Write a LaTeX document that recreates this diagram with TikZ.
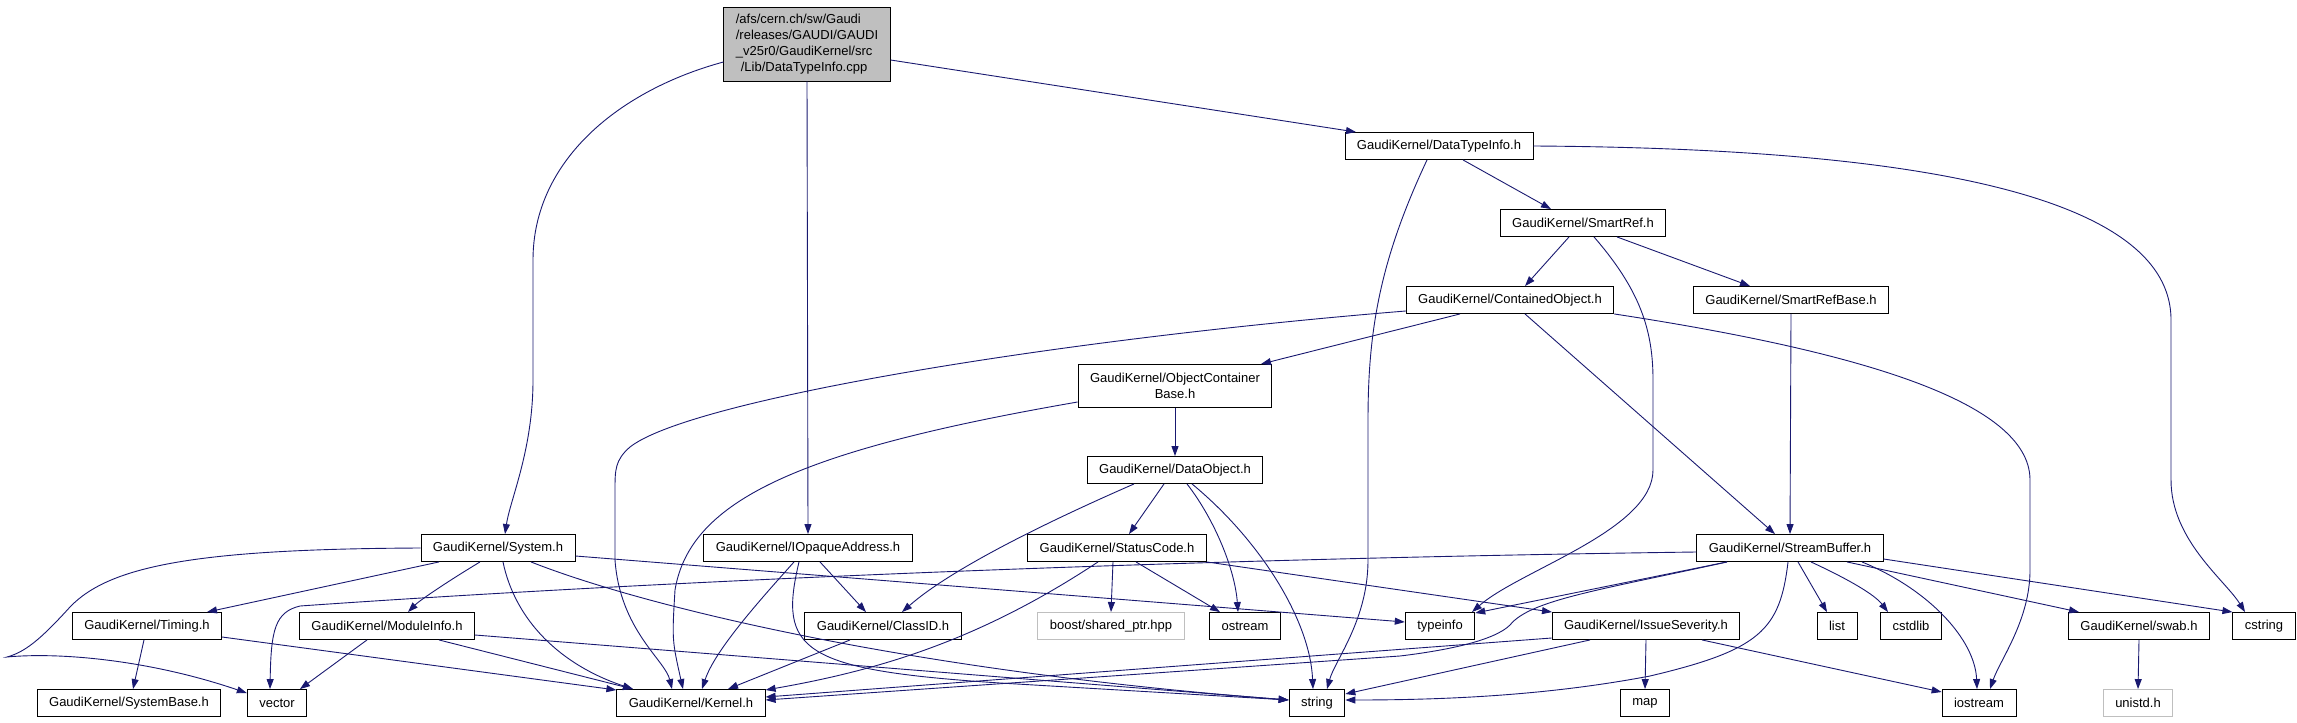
\documentclass[tikz,border=0pt]{standalone}
\usepackage{fontspec}
\setmainfont{Liberation Sans}
\usetikzlibrary{arrows.meta}
\definecolor{edgeblue}{HTML}{191970}
\definecolor{boxgray}{HTML}{BFBFBF}

\begin{document}
\begin{tikzpicture}[
  x=1bp, y=-1bp,
  hdr/.style = {shape=rectangle, draw=black, line width=0.9bp, inner xsep=12bp,
    inner ysep=0bp, minimum height=27bp, align=center,
    font=\fontsize{13bp}{16bp}\selectfont},
  ext/.style = {hdr, draw=boxgray},
  src/.style = {hdr, fill=boxgray, align=left, minimum height=74bp},
  dep/.style = {draw=edgeblue, line width=0.9bp, -{Triangle[length=10bp, width=7bp]}}
  ]
  \useasboundingbox (0,0) rectangle (2297,723);

  % headers, row by row
  \node[src] (root) at (807,44) {/afs/cern.ch/sw/Gaudi\\/releases/GAUDI/GAUDI\\\_v25r0/GaudiKernel/src\\\hspace*{5bp}/Lib/DataTypeInfo.cpp};
  \node[hdr] (dti) at (1439,146) {GaudiKernel/DataTypeInfo.h};
  \node[hdr] (smartref) at (1583,223) {GaudiKernel/SmartRef.h};
  \node[hdr] (cobj) at (1510,300) {GaudiKernel/ContainedObject.h};
  \node[hdr] (srbase) at (1791,300) {GaudiKernel/SmartRefBase.h};
  \node[hdr, minimum height=43bp] (ocb) at (1175,386) {GaudiKernel/ObjectContainer\\Base.h};
  \node[hdr] (dobj) at (1175,470) {GaudiKernel/DataObject.h};
  \node[hdr] (system) at (498,548) {GaudiKernel/System.h};
  \node[hdr] (ioa) at (808,548) {GaudiKernel/IOpaqueAddress.h};
  \node[hdr] (status) at (1117,548) {GaudiKernel/StatusCode.h};
  \node[hdr] (sbuf) at (1790,548) {GaudiKernel/StreamBuffer.h};
  \node[hdr] (timing) at (147,626) {GaudiKernel/Timing.h};
  \node[hdr] (modinfo) at (387,626) {GaudiKernel/ModuleInfo.h};
  \node[hdr] (classid) at (883,626) {GaudiKernel/ClassID.h};
  \node[ext] (boost) at (1111,626) {boost/shared\_ptr.hpp};
  \node[hdr] (ostream) at (1245,626) {ostream};
  \node[hdr] (typeinfo) at (1440,626) {typeinfo};
  \node[hdr] (issue) at (1646,626) {GaudiKernel/IssueSeverity.h};
  \node[hdr] (list) at (1837,626) {list};
  \node[hdr] (cstdlib) at (1911,626) {cstdlib};
  \node[hdr] (swab) at (2139,626) {GaudiKernel/swab.h};
  \node[hdr] (cstring) at (2264,626) {cstring};
  \node[hdr] (sysbase) at (129,703) {GaudiKernel/SystemBase.h};
  \node[hdr] (vector) at (277,703) {vector};
  \node[hdr] (kernel) at (691,703) {GaudiKernel/Kernel.h};
  \node[hdr] (string) at (1317,703) {string};
  \node[hdr] (map) at (1645,703) {map};
  \node[hdr] (iostream) at (1979,703) {iostream};
  \node[ext] (unistd) at (2138,703) {unistd.h};

  % includes of the source file
  \draw[dep] ([yshift=-18bp]root.west) .. controls (620,90) and (533,160) .. (533,260)
    -- (533,380) .. controls (533,450) and (510,500) .. ([xshift=7bp]system.north);
  \draw[dep] (root.south) -- (ioa.north);
  \draw[dep] ([yshift=-16bp]root.east) -- ([xshift=-83bp]dti.north);

  % DataTypeInfo.h
  \draw[dep] ([xshift=24bp]dti.south) -- ([xshift=-32bp]smartref.north);
  \draw[dep] ([xshift=-12bp]dti.south) .. controls (1380,260) and (1368,330) .. (1368,420)
    -- (1368,560) .. controls (1368,620) and (1335,660) .. ([xshift=10bp]string.north);
  \draw[dep] (dti.east) .. controls (1850,148) and (2171,180) .. (2171,320)
    -- (2171,480) .. controls (2171,540) and (2225,580) .. ([xshift=-19bp]cstring.north);

  % SmartRef.h
  \draw[dep] ([xshift=-14bp]smartref.south) -- ([xshift=15bp]cobj.north);
  \draw[dep] ([xshift=34bp]smartref.south) -- ([xshift=-41bp]srbase.north);
  \draw[dep] ([xshift=11bp]smartref.south) .. controls (1640,290) and (1653,330) .. (1653,380)
    -- (1653,470) .. controls (1653,530) and (1520,570) .. ([xshift=32bp]typeinfo.north);

  % ContainedObject.h
  \draw[dep] ([xshift=-50bp]cobj.south) -- ([xshift=86bp]ocb.north);
  \draw[dep] ([yshift=-11bp]cobj.west) .. controls (1050,340) and (690,400) .. (630,447)
    .. controls (615,460) and (615,470) .. (615,490) -- (615,560)
    .. controls (620,630) and (665,660) .. ([xshift=-19bp]kernel.north);
  \draw[dep] ([xshift=15bp]cobj.south) -- ([xshift=-15bp]sbuf.north);
  \draw[dep] (cobj.south east) .. controls (1850,350) and (2030,400) .. (2030,480)
    -- (2030,570) .. controls (2030,620) and (2000,660) .. ([xshift=11bp]iostream.north);

  % ObjectContainerBase.h and DataObject.h
  \draw[dep] (ocb.south) -- (dobj.north);
  \draw[dep] ([yshift=-16bp]ocb.west) .. controls (800,450) and (690,500) .. (675,590)
    .. controls (672,640) .. ([xshift=-8bp]kernel.north);
  \draw[dep] ([xshift=-11bp]dobj.south) -- ([xshift=12bp]status.north);
  \draw[dep] ([xshift=-41bp]dobj.south) .. controls (1040,525) and (950,570) .. ([xshift=19bp]classid.north);
  \draw[dep] ([xshift=12bp]dobj.south) .. controls (1215,520) and (1235,570) .. ([xshift=-7bp]ostream.north);
  \draw[dep] ([xshift=17bp]dobj.south) .. controls (1260,540) and (1310,620) .. ([xshift=-4bp]string.north);

  % IOpaqueAddress.h
  \draw[dep] ([xshift=12bp]ioa.south) -- ([xshift=-17bp]classid.north);
  \draw[dep] ([xshift=-14bp]ioa.south) .. controls (760,600) and (715,650) .. ([xshift=11bp]kernel.north);
  \draw[dep] ([xshift=-9bp]ioa.south) .. controls (778,650) and (800,670) .. (1000,683)
    -- ([yshift=3bp]string.west);

  % StatusCode.h and ClassID.h
  \draw[dep] ([xshift=-19bp]status.south) .. controls (980,640) and (880,670) .. ([yshift=13bp]kernel.east);
  \draw[dep] ([xshift=-4bp]status.south) -- (boost.north);
  \draw[dep] ([xshift=19bp]status.south) -- ([xshift=-25bp]ostream.north);
  \draw[dep] (status.south east) -- ([xshift=-94bp]issue.north);
  \draw[dep] ([xshift=-33bp]classid.south) -- ([xshift=37bp]kernel.north);

  % System.h
  \draw[dep] ([xshift=-59bp]system.south) -- ([xshift=60bp]timing.north);
  \draw[dep] ([xshift=-18bp]system.south) .. controls (450,580) and (420,600) .. ([xshift=21bp]modinfo.north);
  \draw[dep] ([xshift=5bp]system.south) .. controls (515,620) and (560,665) .. ([xshift=-58bp]kernel.north);
  \draw[dep] ([xshift=33bp]system.south) .. controls (640,605) and (900,670) .. ([yshift=3bp]string.west);
  \draw[dep] (system.west) .. controls (200,549) and (110,565) .. (70,607)
    .. controls (40,640) and (25,652) .. (7,657)
    .. controls (60,652) and (150,660) .. ([yshift=-4bp]vector.north west);
  \draw[dep] ([yshift=-8bp]system.east) -- ([yshift=4bp]typeinfo.west);

  % Timing.h and ModuleInfo.h
  \draw[dep] ([xshift=-3bp]timing.south) -- ([xshift=4bp]sysbase.north);
  \draw[dep] ([yshift=-11bp]timing.east) -- ([yshift=13bp]kernel.west);
  \draw[dep] ([xshift=-20bp]modinfo.south) -- ([xshift=23bp]vector.north);
  \draw[dep] ([xshift=52bp]modinfo.south) -- ([xshift=-58bp]kernel.north);
  \draw[dep] ([yshift=-9bp]modinfo.east) -- ([yshift=3bp]string.west);

  % SmartRefBase.h and StreamBuffer.h
  \draw[dep] (srbase.south) -- (sbuf.north);
  \draw[dep] ([yshift=-4bp]sbuf.west) .. controls (1100,560) and (600,585) .. (300,606)
    .. controls (275,612) and (271,630) .. ([xshift=-7bp]vector.north);
  \draw[dep] ([xshift=-63bp]sbuf.south) -- ([yshift=13bp]typeinfo.east);
  \draw[dep] ([xshift=-63bp]sbuf.south) .. controls (1600,590) and (1530,600) .. (1510,625)
    .. controls (1495,640) and (1450,650) .. (1400,656) -- ([yshift=3bp]kernel.east);
  \draw[dep] ([xshift=-2bp]sbuf.south) .. controls (1780,630) and (1760,650) .. (1650,676)
    .. controls (1550,695) and (1450,700) .. ([yshift=3bp]string.east);
  \draw[dep] ([xshift=8bp]sbuf.south) -- ([xshift=-10bp]list.north);
  \draw[dep] ([xshift=21bp]sbuf.south) .. controls (1850,580) and (1875,595) .. ([xshift=-23bp]cstdlib.north);
  \draw[dep] ([xshift=72bp]sbuf.south) .. controls (1930,590) and (1975,640) .. ([xshift=-2bp]iostream.north);
  \draw[dep] ([xshift=57bp]sbuf.south) -- ([xshift=-60bp]swab.north);
  \draw[dep] ([yshift=-11bp]sbuf.east) -- (cstring.north west);

  % IssueSeverity.h and swab.h
  \draw[dep] ([yshift=-12bp]issue.west) -- ([yshift=6bp]kernel.east);
  \draw[dep] ([xshift=-56bp]issue.south) -- ([yshift=9bp]string.east);
  \draw[dep] (issue.south) -- (map.north);
  \draw[dep] ([xshift=56bp]issue.south) -- ([yshift=11bp]iostream.west);
  \draw[dep] (swab.south) -- (unistd.north);
\end{tikzpicture}
\end{document}
